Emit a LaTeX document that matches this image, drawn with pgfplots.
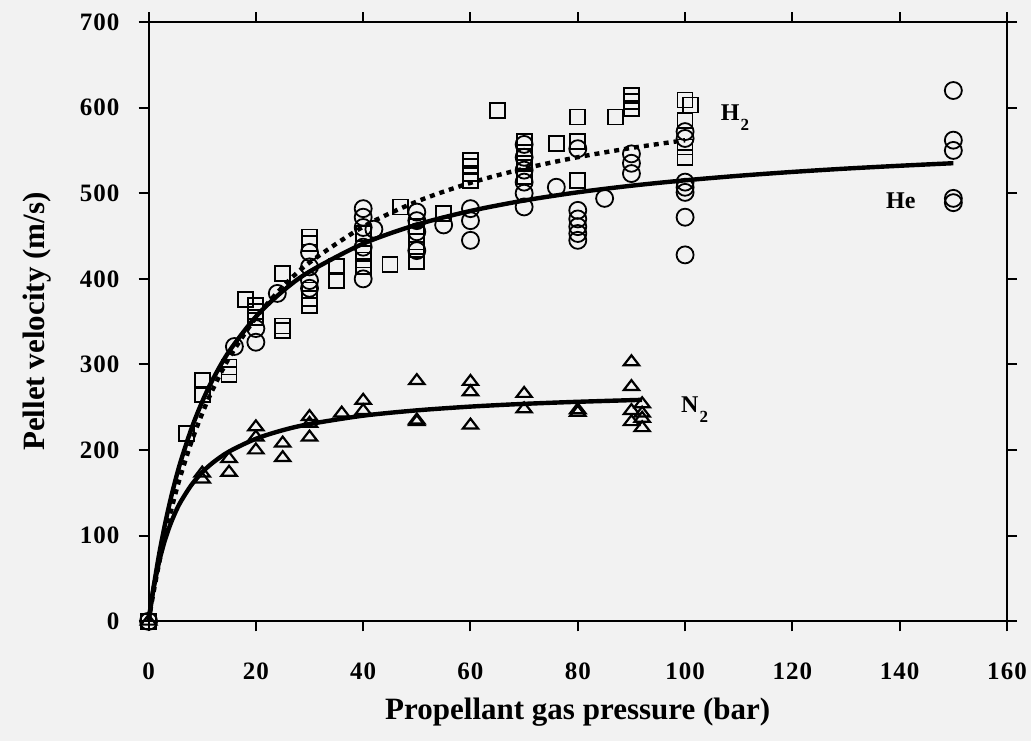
\documentclass[border=0pt]{standalone}
\usepackage{fontspec}
\setmainfont{Liberation Serif}
\usepackage{pgfplots}
\pgfplotsset{compat=1.18}
\usetikzlibrary{backgrounds}
\newfontfamily\tickfont[LetterSpace=4]{Liberation Serif}
\definecolor{bg}{gray}{0.95}

\pgfplotstableread{
x y
0 0
16 321
20 342
20 326
24 383
30 431
30 414
30 398
30 389
40 482
40 472
40 460
40 437
40 400
42 458
50 478
50 468
50 455
50 433
55 463
60 482
60 468
60 445
70 557
70 542
70 527
70 513
70 500
70 484
76 507
80 552
80 480
80 470
80 461
80 453
80 445
85 494
90 546
90 535
90 523
100 572
100 564
100 513
100 507
100 501
100 472
100 428
150 620
150 562
150 550
150 494
150 489
}\He

\pgfplotstableread{
x y
0 0
7 219
10 281
10 265
15 297
15 288
18 376
20 369
20 362
20 355
25 406
25 345
25 340
30 449
30 441
30 387
30 377
30 369
35 414
35 398
40 453
40 430
40 422
40 414
45 417
47 484
50 461
50 452
50 443
50 434
50 420
55 476
60 538
60 531
60 523
60 515
65 597
70 560
70 548
70 535
70 520
76 558
80 589
80 560
80 515
87 589
90 614
90 607
90 599
100 609
101 603
100 585
100 554
100 542
}\Htwo

\pgfplotstableread{
x y
0 0
10 173
10 166
15 190
15 174
20 227
20 215
20 200
25 208
25 191
30 239
30 231
30 215
36 243
40 258
40 246
50 281
50 235
50 233
60 280
60 268
60 229
70 266
70 248
80 247
80 244
90 303
90 274
90 246
90 233
92 254
92 243
92 237
92 226
}\Ntwo

\pgfplotstableread{
x y
0 0
0.5 22.1
1 42.6
2 79.5
3 111.5
4 139.8
5 164.8
6 187.1
8 225.2
10 256.6
12 282.9
15 315.2
20 355.8
25 385.6
30 408.5
40 441.1
50 463.3
60 479.3
70 491.5
80 501.1
90 508.8
100 515.1
110 520.4
120 524.9
130 528.8
140 532.1
150 535.1
}\Hefit

\pgfplotstableread{
x y
0 0
0.5 18.7
1 36.4
2 68.9
3 98.2
4 124.7
5 148.9
6 170.9
8 209.7
10 242.8
12 271.3
15 307.5
20 354.7
25 390.7
30 419.1
40 460.9
50 490.3
60 512.1
70 528.8
80 542.1
90 552.9
100 561.9
}\Htwofit

\pgfplotstableread{
x y
0 0
0.5 21.8
1 40.4
2 70.5
3 93.8
4 112.2
5 127.3
6 139.8
8 159.4
10 174.1
12 185.4
15 198.3
20 213.2
25 223.2
30 230.4
40 240.2
50 246.4
60 250.8
70 254.0
80 256.4
92 258.7
}\Ntwofit

\begin{document}
\begin{tikzpicture}
\begin{axis}[
  width=429pt, height=299.5pt, scale only axis,
  xmin=0, xmax=160, ymin=0, ymax=700,
  xtick={0,20,...,160}, ytick={0,100,...,700},
  tick align=outside, tick pos=both,
  xticklabel pos=lower, yticklabel pos=left,
  major tick length=5pt,
  axis line style={line width=1pt},
  every tick/.style={line width=1pt, black},
  /pgf/number format/assume math mode=true,
  tick label style={font=\tickfont\bfseries\fontsize{12.5}{14}\selectfont},
  xticklabel style={yshift=-12pt},
  yticklabel style={xshift=-6pt},
  xlabel={Propellant gas pressure (bar)},
  ylabel={Pellet velocity (m/s)},
  label style={font=\bfseries\fontsize{15.5}{18}\selectfont},
  xlabel style={at={(axis description cs:0.5,-0.152)}, anchor=center},
  ylabel style={at={(axis description cs:-0.13,0.5)}, anchor=center},
  clip=false,
]
\addplot[black, line width=2.2pt, no markers, smooth] table {\Hefit};
\addplot[black, line width=2.2pt, no markers, smooth, dash pattern=on 2.5pt off 2.5pt] table {\Htwofit};
\addplot[black, line width=2.2pt, no markers, smooth] table {\Ntwofit};
\addplot[only marks, mark=o, mark size=4.25pt, mark options={black, line width=0.9pt, fill=none}] table {\He};
\addplot[only marks, mark=square, mark size=3.75pt, mark options={black, line width=0.9pt, fill=none}] table {\Htwo};
\addplot[only marks, mark=triangle, mark size=4.4pt, mark options={black, line width=1.1pt, fill=none, yscale=0.75}] table {\Ntwo};
\node[anchor=base west, inner sep=0pt, font=\bfseries\fontsize{12}{14}\selectfont] at (axis cs:106.6,585) {H\hspace{0.5pt}\raisebox{-0.9ex}{\fontsize{8.5}{9}\selectfont 2}};
\node[anchor=base west, inner sep=0pt, font=\bfseries\fontsize{12}{14}\selectfont] at (axis cs:137.4,482.5) {He};
\node[anchor=base west, inner sep=0pt, font=\bfseries\fontsize{12}{14}\selectfont] at (axis cs:99.2,244) {N\hspace{0.5pt}\raisebox{-0.9ex}{\fontsize{8.5}{9}\selectfont 2}};
\coordinate (SW) at (rel axis cs:0,0);
\coordinate (NE) at (rel axis cs:1,1);
\end{axis}
\pgfresetboundingbox
\path[use as bounding box] ([shift={(-74.25pt,-60pt)}]SW) rectangle ([shift={(12pt,11pt)}]NE);
\begin{scope}[on background layer]
\fill[bg] ([shift={(-74.25pt,-60pt)}]SW) rectangle ([shift={(12pt,11pt)}]NE);
\end{scope}
\end{tikzpicture}
\end{document}
